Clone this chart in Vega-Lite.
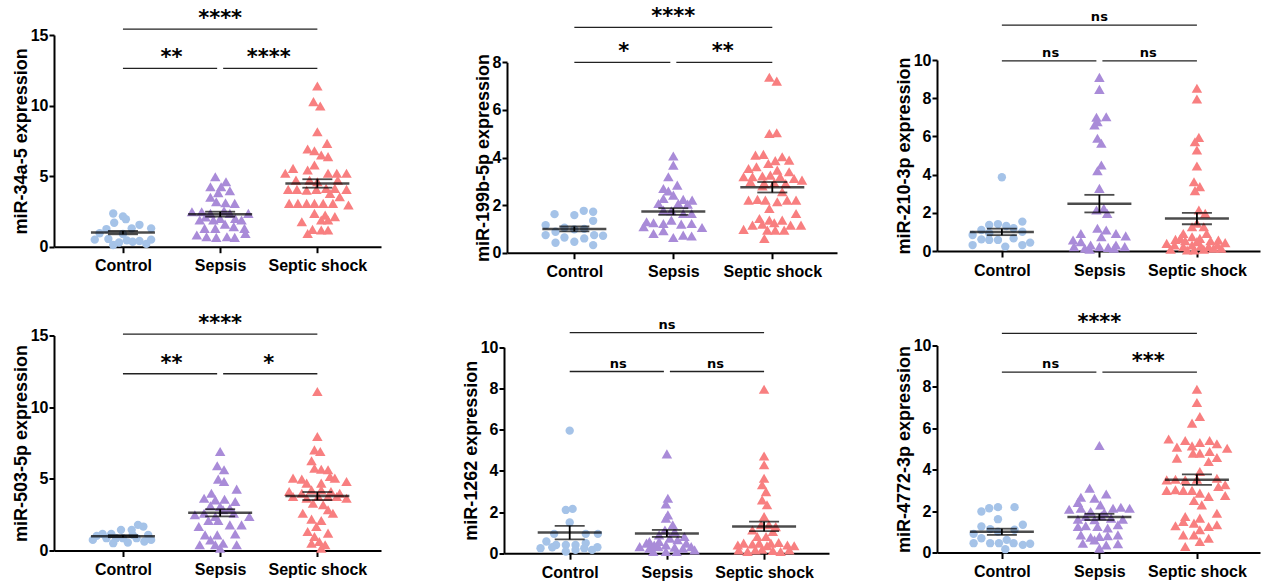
{
 "$schema": "https://vega.github.io/schema/vega-lite/v6.json",
 "padding": {"left": 12, "top": 6, "right": 2, "bottom": 2},
 "background": "white",
 "config": {
  "view": {"stroke": null},
  "axis": {"domainColor": "black", "domainWidth": 2, "tickColor": "black", "tickWidth": 2, "grid": false, "labelOverlap": false,
   "labelFont": "Liberation Sans", "labelFontWeight": "bold", "labelFontSize": 16, "labelColor": "black",
   "titleFont": "Liberation Sans", "titleFontWeight": "bold", "titleFontSize": 18, "titleColor": "black"},
  "axisX": {"tickSize": 6, "labelPadding": 5, "labelAngle": 0},
  "axisY": {"tickSize": 5, "labelPadding": 1, "titlePadding": 0}
 },
 "datasets": {
  "pts": [
   {"p":1,"g":"Control","v":2.35,"j":-0.1},{"p":1,"g":"Control","v":2.15,"j":0.0},{"p":1,"g":"Control","v":1.95,"j":0.03},{"p":1,"g":"Control","v":1.7,"j":-0.09},{"p":1,"g":"Control","v":1.55,"j":0.17},{"p":1,"g":"Control","v":1.3,"j":0.29},{"p":1,"g":"Control","v":1.25,"j":-0.17},{"p":1,"g":"Control","v":1.3,"j":0.09},{"p":1,"g":"Control","v":0.95,"j":-0.24},{"p":1,"g":"Control","v":0.9,"j":0.0},{"p":1,"g":"Control","v":0.5,"j":-0.29},{"p":1,"g":"Control","v":0.55,"j":-0.15},{"p":1,"g":"Control","v":0.3,"j":-0.04},{"p":1,"g":"Control","v":0.45,"j":0.04},{"p":1,"g":"Control","v":0.35,"j":0.1},{"p":1,"g":"Control","v":0.4,"j":0.17},{"p":1,"g":"Control","v":0.2,"j":0.24},{"p":1,"g":"Control","v":0.5,"j":0.29},{"p":1,"g":"Control","v":0.12,"j":-0.1},
   {"p":1,"g":"Sepsis","v":4.96,"j":-0.05},{"p":1,"g":"Sepsis","v":4.6,"j":0.06},{"p":1,"g":"Sepsis","v":4.25,"j":-0.1},{"p":1,"g":"Sepsis","v":4.25,"j":0.01},{"p":1,"g":"Sepsis","v":3.97,"j":0.1},{"p":1,"g":"Sepsis","v":3.83,"j":-0.02},{"p":1,"g":"Sepsis","v":3.5,"j":-0.1},{"p":1,"g":"Sepsis","v":3.19,"j":-0.04},{"p":1,"g":"Sepsis","v":3.12,"j":0.055},{"p":1,"g":"Sepsis","v":3.07,"j":0.15},{"p":1,"g":"Sepsis","v":2.55,"j":0.04},{"p":1,"g":"Sepsis","v":2.48,"j":-0.29},{"p":1,"g":"Sepsis","v":2.48,"j":-0.19},{"p":1,"g":"Sepsis","v":2.36,"j":-0.1},{"p":1,"g":"Sepsis","v":2.36,"j":0.1},{"p":1,"g":"Sepsis","v":2.36,"j":0.29},{"p":1,"g":"Sepsis","v":2.1,"j":-0.15},{"p":1,"g":"Sepsis","v":2.0,"j":0.0},{"p":1,"g":"Sepsis","v":2.0,"j":0.155},{"p":1,"g":"Sepsis","v":1.89,"j":-0.21},{"p":1,"g":"Sepsis","v":1.89,"j":-0.07},{"p":1,"g":"Sepsis","v":1.89,"j":0.22},{"p":1,"g":"Sepsis","v":1.6,"j":0.05},{"p":1,"g":"Sepsis","v":1.42,"j":0.14},{"p":1,"g":"Sepsis","v":1.3,"j":-0.16},{"p":1,"g":"Sepsis","v":1.3,"j":-0.05},{"p":1,"g":"Sepsis","v":1.3,"j":0.25},{"p":1,"g":"Sepsis","v":0.94,"j":0.26},{"p":1,"g":"Sepsis","v":0.83,"j":-0.24},{"p":1,"g":"Sepsis","v":0.71,"j":-0.14},{"p":1,"g":"Sepsis","v":0.66,"j":-0.04},{"p":1,"g":"Sepsis","v":0.71,"j":0.07},{"p":1,"g":"Sepsis","v":0.66,"j":0.15},
   {"p":1,"g":"Septic shock","v":11.39,"j":0.0},{"p":1,"g":"Septic shock","v":10.28,"j":-0.04},{"p":1,"g":"Septic shock","v":9.97,"j":0.03},{"p":1,"g":"Septic shock","v":8.15,"j":0.0},{"p":1,"g":"Septic shock","v":7.32,"j":0.1},{"p":1,"g":"Septic shock","v":6.92,"j":-0.1},{"p":1,"g":"Septic shock","v":6.8,"j":-0.03},{"p":1,"g":"Septic shock","v":6.5,"j":0.04},{"p":1,"g":"Septic shock","v":6.38,"j":0.11},{"p":1,"g":"Septic shock","v":5.79,"j":-0.03},{"p":1,"g":"Septic shock","v":5.55,"j":-0.25},{"p":1,"g":"Septic shock","v":5.2,"j":-0.33},{"p":1,"g":"Septic shock","v":5.43,"j":-0.1},{"p":1,"g":"Septic shock","v":5.2,"j":0.11},{"p":1,"g":"Septic shock","v":5.2,"j":0.2},{"p":1,"g":"Septic shock","v":5.2,"j":0.3},{"p":1,"g":"Septic shock","v":4.72,"j":-0.22},{"p":1,"g":"Septic shock","v":4.72,"j":-0.08},{"p":1,"g":"Septic shock","v":4.6,"j":0.0},{"p":1,"g":"Septic shock","v":4.72,"j":0.21},{"p":1,"g":"Septic shock","v":4.06,"j":-0.3},{"p":1,"g":"Septic shock","v":4.06,"j":-0.21},{"p":1,"g":"Septic shock","v":4.0,"j":-0.11},{"p":1,"g":"Septic shock","v":4.06,"j":-0.01},{"p":1,"g":"Septic shock","v":4.13,"j":0.09},{"p":1,"g":"Septic shock","v":4.13,"j":0.18},{"p":1,"g":"Septic shock","v":4.06,"j":0.3},{"p":1,"g":"Septic shock","v":3.78,"j":0.13},{"p":1,"g":"Septic shock","v":3.54,"j":0.23},{"p":1,"g":"Septic shock","v":3.07,"j":-0.29},{"p":1,"g":"Septic shock","v":3.07,"j":-0.2},{"p":1,"g":"Septic shock","v":3.07,"j":-0.11},{"p":1,"g":"Septic shock","v":3.07,"j":-0.03},{"p":1,"g":"Septic shock","v":3.07,"j":0.06},{"p":1,"g":"Septic shock","v":3.07,"j":0.16},{"p":1,"g":"Septic shock","v":2.95,"j":0.32},{"p":1,"g":"Septic shock","v":2.36,"j":-0.03},{"p":1,"g":"Septic shock","v":2.24,"j":0.08},{"p":1,"g":"Septic shock","v":2.13,"j":0.18},{"p":1,"g":"Septic shock","v":1.77,"j":-0.16},{"p":1,"g":"Septic shock","v":1.89,"j":0.04},{"p":1,"g":"Septic shock","v":1.89,"j":0.11},{"p":1,"g":"Septic shock","v":1.23,"j":-0.05},{"p":1,"g":"Septic shock","v":1.18,"j":0.04},{"p":1,"g":"Septic shock","v":1.18,"j":0.11},{"p":1,"g":"Septic shock","v":0.94,"j":-0.1},

   {"p":2,"g":"Control","v":1.62,"j":-0.2},{"p":2,"g":"Control","v":1.58,"j":0.0},{"p":2,"g":"Control","v":1.76,"j":0.095},{"p":2,"g":"Control","v":1.72,"j":0.19},{"p":2,"g":"Control","v":1.34,"j":0.19},{"p":2,"g":"Control","v":1.16,"j":-0.29},{"p":2,"g":"Control","v":1.05,"j":-0.1},{"p":2,"g":"Control","v":0.98,"j":0.0},{"p":2,"g":"Control","v":1.0,"j":0.1},{"p":2,"g":"Control","v":0.74,"j":-0.29},{"p":2,"g":"Control","v":0.88,"j":-0.19},{"p":2,"g":"Control","v":0.64,"j":-0.1},{"p":2,"g":"Control","v":0.6,"j":0.1},{"p":2,"g":"Control","v":0.74,"j":0.2},{"p":2,"g":"Control","v":0.71,"j":0.29},{"p":2,"g":"Control","v":0.42,"j":-0.19},{"p":2,"g":"Control","v":0.46,"j":0.0},{"p":2,"g":"Control","v":0.32,"j":0.19},
   {"p":2,"g":"Sepsis","v":4.06,"j":0.0},{"p":2,"g":"Sepsis","v":3.68,"j":0.0},{"p":2,"g":"Sepsis","v":3.19,"j":-0.05},{"p":2,"g":"Sepsis","v":2.84,"j":0.04},{"p":2,"g":"Sepsis","v":2.7,"j":-0.1},{"p":2,"g":"Sepsis","v":2.59,"j":-0.05},{"p":2,"g":"Sepsis","v":2.42,"j":0.0},{"p":2,"g":"Sepsis","v":2.28,"j":-0.1},{"p":2,"g":"Sepsis","v":2.24,"j":0.1},{"p":2,"g":"Sepsis","v":2.21,"j":0.19},{"p":2,"g":"Sepsis","v":2.07,"j":-0.15},{"p":2,"g":"Sepsis","v":2.07,"j":0.05},{"p":2,"g":"Sepsis","v":2.04,"j":0.145},{"p":2,"g":"Sepsis","v":1.79,"j":-0.1},{"p":2,"g":"Sepsis","v":1.76,"j":-0.02},{"p":2,"g":"Sepsis","v":1.65,"j":0.1},{"p":2,"g":"Sepsis","v":1.65,"j":0.185},{"p":2,"g":"Sepsis","v":1.3,"j":-0.27},{"p":2,"g":"Sepsis","v":1.26,"j":-0.2},{"p":2,"g":"Sepsis","v":1.23,"j":-0.1},{"p":2,"g":"Sepsis","v":1.37,"j":-0.02},{"p":2,"g":"Sepsis","v":1.2,"j":0.08},{"p":2,"g":"Sepsis","v":1.23,"j":0.185},{"p":2,"g":"Sepsis","v":1.06,"j":0.29},{"p":2,"g":"Sepsis","v":1.09,"j":-0.3},{"p":2,"g":"Sepsis","v":0.81,"j":-0.2},{"p":2,"g":"Sepsis","v":0.92,"j":-0.1},{"p":2,"g":"Sepsis","v":0.64,"j":0.0},{"p":2,"g":"Sepsis","v":0.74,"j":0.1},{"p":2,"g":"Sepsis","v":0.7,"j":0.185},
   {"p":2,"g":"Septic shock","v":7.37,"j":-0.03},{"p":2,"g":"Septic shock","v":7.21,"j":0.045},{"p":2,"g":"Septic shock","v":5.01,"j":-0.03},{"p":2,"g":"Septic shock","v":5.04,"j":0.045},{"p":2,"g":"Septic shock","v":4.1,"j":-0.17},{"p":2,"g":"Septic shock","v":4.13,"j":-0.09},{"p":2,"g":"Septic shock","v":4.03,"j":0.1},{"p":2,"g":"Septic shock","v":3.89,"j":0.17},{"p":2,"g":"Septic shock","v":3.87,"j":0.03},{"p":2,"g":"Septic shock","v":3.75,"j":-0.04},{"p":2,"g":"Septic shock","v":3.61,"j":-0.16},{"p":2,"g":"Septic shock","v":3.54,"j":-0.24},{"p":2,"g":"Septic shock","v":3.47,"j":0.05},{"p":2,"g":"Septic shock","v":3.4,"j":0.17},{"p":2,"g":"Septic shock","v":3.19,"j":-0.29},{"p":2,"g":"Septic shock","v":3.19,"j":-0.2},{"p":2,"g":"Septic shock","v":3.22,"j":-0.1},{"p":2,"g":"Septic shock","v":3.26,"j":-0.02},{"p":2,"g":"Septic shock","v":3.19,"j":0.08},{"p":2,"g":"Septic shock","v":3.12,"j":0.22},{"p":2,"g":"Septic shock","v":3.05,"j":0.3},{"p":2,"g":"Septic shock","v":2.98,"j":-0.22},{"p":2,"g":"Septic shock","v":2.91,"j":-0.08},{"p":2,"g":"Septic shock","v":2.94,"j":0.02},{"p":2,"g":"Septic shock","v":2.91,"j":0.135},{"p":2,"g":"Septic shock","v":2.8,"j":-0.1},{"p":2,"g":"Septic shock","v":2.56,"j":0.1},{"p":2,"g":"Septic shock","v":2.21,"j":-0.24},{"p":2,"g":"Septic shock","v":2.24,"j":-0.15},{"p":2,"g":"Septic shock","v":2.21,"j":-0.07},{"p":2,"g":"Septic shock","v":2.14,"j":0.05},{"p":2,"g":"Septic shock","v":2.21,"j":0.15},{"p":2,"g":"Septic shock","v":2.21,"j":0.24},{"p":2,"g":"Septic shock","v":1.86,"j":-0.03},{"p":2,"g":"Septic shock","v":1.65,"j":0.24},{"p":2,"g":"Septic shock","v":1.44,"j":-0.13},{"p":2,"g":"Septic shock","v":1.37,"j":-0.03},{"p":2,"g":"Septic shock","v":1.37,"j":0.1},{"p":2,"g":"Septic shock","v":1.16,"j":-0.2},{"p":2,"g":"Septic shock","v":1.2,"j":-0.1},{"p":2,"g":"Septic shock","v":1.26,"j":0.02},{"p":2,"g":"Septic shock","v":1.16,"j":0.185},{"p":2,"g":"Septic shock","v":1.16,"j":0.29},{"p":2,"g":"Septic shock","v":0.98,"j":-0.29},{"p":2,"g":"Septic shock","v":0.95,"j":-0.05},{"p":2,"g":"Septic shock","v":0.95,"j":0.03},{"p":2,"g":"Septic shock","v":0.95,"j":0.12},{"p":2,"g":"Septic shock","v":0.6,"j":-0.08},

   {"p":3,"g":"Control","v":3.86,"j":0.0},{"p":3,"g":"Control","v":1.54,"j":0.21},{"p":3,"g":"Control","v":1.36,"j":-0.13},{"p":3,"g":"Control","v":1.41,"j":-0.04},{"p":3,"g":"Control","v":1.31,"j":0.045},{"p":3,"g":"Control","v":1.19,"j":0.12},{"p":3,"g":"Control","v":1.1,"j":-0.21},{"p":3,"g":"Control","v":0.84,"j":-0.3},{"p":3,"g":"Control","v":1.01,"j":0.21},{"p":3,"g":"Control","v":0.93,"j":-0.13},{"p":3,"g":"Control","v":0.61,"j":-0.21},{"p":3,"g":"Control","v":0.58,"j":-0.13},{"p":3,"g":"Control","v":0.58,"j":-0.04},{"p":3,"g":"Control","v":0.66,"j":0.12},{"p":3,"g":"Control","v":0.31,"j":-0.3},{"p":3,"g":"Control","v":0.23,"j":0.035},{"p":3,"g":"Control","v":0.31,"j":0.21},{"p":3,"g":"Control","v":0.44,"j":0.29},
   {"p":3,"g":"Sepsis","v":9.09,"j":0.0},{"p":3,"g":"Sepsis","v":8.46,"j":0.0},{"p":3,"g":"Sepsis","v":7.0,"j":-0.03},{"p":3,"g":"Sepsis","v":7.03,"j":0.07},{"p":3,"g":"Sepsis","v":6.77,"j":-0.02},{"p":3,"g":"Sepsis","v":6.6,"j":-0.05},{"p":3,"g":"Sepsis","v":5.9,"j":-0.02},{"p":3,"g":"Sepsis","v":5.64,"j":0.02},{"p":3,"g":"Sepsis","v":4.5,"j":0.02},{"p":3,"g":"Sepsis","v":4.2,"j":-0.02},{"p":3,"g":"Sepsis","v":3.28,"j":0.0},{"p":3,"g":"Sepsis","v":2.15,"j":-0.03},{"p":3,"g":"Sepsis","v":2.23,"j":0.045},{"p":3,"g":"Sepsis","v":1.97,"j":0.08},{"p":3,"g":"Sepsis","v":1.19,"j":-0.02},{"p":3,"g":"Sepsis","v":1.1,"j":0.07},{"p":3,"g":"Sepsis","v":0.92,"j":-0.19},{"p":3,"g":"Sepsis","v":0.92,"j":0.17},{"p":3,"g":"Sepsis","v":0.58,"j":-0.27},{"p":3,"g":"Sepsis","v":0.49,"j":-0.19},{"p":3,"g":"Sepsis","v":0.75,"j":0.02},{"p":3,"g":"Sepsis","v":0.79,"j":0.27},{"p":3,"g":"Sepsis","v":0.23,"j":-0.26},{"p":3,"g":"Sepsis","v":0.14,"j":-0.15},{"p":3,"g":"Sepsis","v":0.31,"j":-0.09},{"p":3,"g":"Sepsis","v":0.23,"j":0.0},{"p":3,"g":"Sepsis","v":0.19,"j":0.09},{"p":3,"g":"Sepsis","v":0.31,"j":0.17},{"p":3,"g":"Sepsis","v":0.23,"j":0.26},{"p":3,"g":"Sepsis","v":0.09,"j":-0.1},{"p":3,"g":"Sepsis","v":0.14,"j":0.15},
   {"p":3,"g":"Septic shock","v":8.52,"j":0.0},{"p":3,"g":"Septic shock","v":7.96,"j":0.0},{"p":3,"g":"Septic shock","v":5.95,"j":0.02},{"p":3,"g":"Septic shock","v":5.72,"j":-0.02},{"p":3,"g":"Septic shock","v":5.29,"j":0.0},{"p":3,"g":"Septic shock","v":4.45,"j":0.0},{"p":3,"g":"Septic shock","v":3.63,"j":-0.03},{"p":3,"g":"Septic shock","v":3.37,"j":0.03},{"p":3,"g":"Septic shock","v":3.16,"j":-0.02},{"p":3,"g":"Septic shock","v":2.15,"j":0.02},{"p":3,"g":"Septic shock","v":1.97,"j":0.085},{"p":3,"g":"Septic shock","v":1.45,"j":0.0},{"p":3,"g":"Septic shock","v":1.27,"j":-0.05},{"p":3,"g":"Septic shock","v":1.27,"j":0.07},{"p":3,"g":"Septic shock","v":0.92,"j":-0.14},{"p":3,"g":"Septic shock","v":0.92,"j":0.1},{"p":3,"g":"Septic shock","v":0.66,"j":-0.17},{"p":3,"g":"Septic shock","v":0.61,"j":-0.22},{"p":3,"g":"Septic shock","v":0.54,"j":-0.12},{"p":3,"g":"Septic shock","v":0.75,"j":-0.05},{"p":3,"g":"Septic shock","v":0.66,"j":0.03},{"p":3,"g":"Septic shock","v":0.54,"j":0.14},{"p":3,"g":"Septic shock","v":0.58,"j":0.22},{"p":3,"g":"Septic shock","v":0.4,"j":-0.31},{"p":3,"g":"Septic shock","v":0.31,"j":-0.23},{"p":3,"g":"Septic shock","v":0.23,"j":-0.14},{"p":3,"g":"Septic shock","v":0.31,"j":-0.05},{"p":3,"g":"Septic shock","v":0.49,"j":0.0},{"p":3,"g":"Septic shock","v":0.26,"j":0.04},{"p":3,"g":"Septic shock","v":0.23,"j":0.12},{"p":3,"g":"Septic shock","v":0.31,"j":0.21},{"p":3,"g":"Septic shock","v":0.44,"j":0.29},{"p":3,"g":"Septic shock","v":0.09,"j":-0.27},{"p":3,"g":"Septic shock","v":0.05,"j":-0.03},{"p":3,"g":"Septic shock","v":0.09,"j":0.07},{"p":3,"g":"Septic shock","v":0.14,"j":0.17},{"p":3,"g":"Septic shock","v":0.14,"j":0.25},{"p":3,"g":"Septic shock","v":0.05,"j":-0.1},

   {"p":4,"g":"Control","v":1.02,"j":-0.27},{"p":4,"g":"Control","v":1.16,"j":-0.21},{"p":4,"g":"Control","v":1.16,"j":-0.12},{"p":4,"g":"Control","v":1.44,"j":-0.02},{"p":4,"g":"Control","v":1.44,"j":0.09},{"p":4,"g":"Control","v":1.79,"j":0.155},{"p":4,"g":"Control","v":1.67,"j":0.21},{"p":4,"g":"Control","v":0.74,"j":0.29},{"p":4,"g":"Control","v":0.51,"j":-0.1},{"p":4,"g":"Control","v":0.86,"j":0.0},{"p":4,"g":"Control","v":0.56,"j":0.05},{"p":4,"g":"Control","v":0.86,"j":0.14},{"p":4,"g":"Control","v":0.63,"j":0.22},{"p":4,"g":"Control","v":0.74,"j":-0.31},{"p":4,"g":"Control","v":0.86,"j":-0.17},{"p":4,"g":"Control","v":0.86,"j":-0.07},{"p":4,"g":"Control","v":1.09,"j":0.1},{"p":4,"g":"Control","v":1.09,"j":0.26},
   {"p":4,"g":"Sepsis","v":6.91,"j":0.0},{"p":4,"g":"Sepsis","v":5.91,"j":-0.03},{"p":4,"g":"Sepsis","v":5.63,"j":0.04},{"p":4,"g":"Sepsis","v":4.98,"j":-0.02},{"p":4,"g":"Sepsis","v":4.81,"j":0.04},{"p":4,"g":"Sepsis","v":4.28,"j":0.17},{"p":4,"g":"Sepsis","v":4.0,"j":-0.09},{"p":4,"g":"Sepsis","v":3.65,"j":-0.165},{"p":4,"g":"Sepsis","v":3.53,"j":-0.05},{"p":4,"g":"Sepsis","v":3.58,"j":0.045},{"p":4,"g":"Sepsis","v":3.42,"j":0.155},{"p":4,"g":"Sepsis","v":3.12,"j":-0.1},{"p":4,"g":"Sepsis","v":3.07,"j":0.0},{"p":4,"g":"Sepsis","v":2.95,"j":0.1},{"p":4,"g":"Sepsis","v":2.49,"j":-0.26},{"p":4,"g":"Sepsis","v":2.6,"j":-0.165},{"p":4,"g":"Sepsis","v":2.37,"j":-0.05},{"p":4,"g":"Sepsis","v":2.84,"j":0.03},{"p":4,"g":"Sepsis","v":2.6,"j":0.14},{"p":4,"g":"Sepsis","v":2.37,"j":0.3},{"p":4,"g":"Sepsis","v":1.79,"j":0.22},{"p":4,"g":"Sepsis","v":1.67,"j":-0.22},{"p":4,"g":"Sepsis","v":2.09,"j":-0.12},{"p":4,"g":"Sepsis","v":2.09,"j":-0.02},{"p":4,"g":"Sepsis","v":1.79,"j":0.1},{"p":4,"g":"Sepsis","v":1.09,"j":-0.155},{"p":4,"g":"Sepsis","v":1.09,"j":-0.03},{"p":4,"g":"Sepsis","v":1.16,"j":0.155},{"p":4,"g":"Sepsis","v":0.4,"j":-0.21},{"p":4,"g":"Sepsis","v":0.4,"j":-0.05},{"p":4,"g":"Sepsis","v":0.51,"j":0.03},{"p":4,"g":"Sepsis","v":0.4,"j":0.17},{"p":4,"g":"Sepsis","v":0.16,"j":0.0},{"p":4,"g":"Sepsis","v":0.74,"j":-0.1},
   {"p":4,"g":"Septic shock","v":11.09,"j":0.0},{"p":4,"g":"Septic shock","v":7.95,"j":0.0},{"p":4,"g":"Septic shock","v":7.02,"j":-0.03},{"p":4,"g":"Septic shock","v":6.91,"j":0.03},{"p":4,"g":"Septic shock","v":6.26,"j":-0.06},{"p":4,"g":"Septic shock","v":5.74,"j":-0.03},{"p":4,"g":"Septic shock","v":5.67,"j":0.04},{"p":4,"g":"Septic shock","v":5.63,"j":0.11},{"p":4,"g":"Septic shock","v":5.05,"j":-0.25},{"p":4,"g":"Septic shock","v":4.98,"j":-0.16},{"p":4,"g":"Septic shock","v":5.16,"j":0.13},{"p":4,"g":"Septic shock","v":5.05,"j":0.18},{"p":4,"g":"Septic shock","v":4.7,"j":-0.11},{"p":4,"g":"Septic shock","v":4.81,"j":0.3},{"p":4,"g":"Septic shock","v":4.7,"j":0.04},{"p":4,"g":"Septic shock","v":4.12,"j":-0.29},{"p":4,"g":"Septic shock","v":4.0,"j":-0.16},{"p":4,"g":"Septic shock","v":4.23,"j":-0.06},{"p":4,"g":"Septic shock","v":4.23,"j":0.04},{"p":4,"g":"Septic shock","v":4.12,"j":0.14},{"p":4,"g":"Septic shock","v":4.0,"j":0.23},{"p":4,"g":"Septic shock","v":3.77,"j":-0.25},{"p":4,"g":"Septic shock","v":3.65,"j":-0.11},{"p":4,"g":"Septic shock","v":3.77,"j":0.01},{"p":4,"g":"Septic shock","v":3.77,"j":0.11},{"p":4,"g":"Septic shock","v":3.77,"j":0.2},{"p":4,"g":"Septic shock","v":3.65,"j":0.3},{"p":4,"g":"Septic shock","v":3.3,"j":-0.045},{"p":4,"g":"Septic shock","v":3.19,"j":0.06},{"p":4,"g":"Septic shock","v":2.6,"j":-0.15},{"p":4,"g":"Septic shock","v":2.84,"j":0.11},{"p":4,"g":"Septic shock","v":2.6,"j":0.16},{"p":4,"g":"Septic shock","v":2.19,"j":-0.06},{"p":4,"g":"Septic shock","v":2.09,"j":0.04},{"p":4,"g":"Septic shock","v":1.67,"j":-0.01},{"p":4,"g":"Septic shock","v":1.21,"j":0.11},{"p":4,"g":"Septic shock","v":1.33,"j":-0.1},{"p":4,"g":"Septic shock","v":0.98,"j":-0.03},{"p":4,"g":"Septic shock","v":0.63,"j":0.02},{"p":4,"g":"Septic shock","v":0.51,"j":-0.06},{"p":4,"g":"Septic shock","v":0.4,"j":0.08},{"p":4,"g":"Septic shock","v":0.16,"j":0.04},

   {"p":5,"g":"Control","v":5.95,"j":0.0},{"p":5,"g":"Control","v":2.1,"j":-0.04},{"p":5,"g":"Control","v":2.15,"j":0.03},{"p":5,"g":"Control","v":1.49,"j":0.0},{"p":5,"g":"Control","v":0.94,"j":-0.16},{"p":5,"g":"Control","v":0.94,"j":0.165},{"p":5,"g":"Control","v":0.94,"j":0.29},{"p":5,"g":"Control","v":0.57,"j":-0.24},{"p":5,"g":"Control","v":0.4,"j":-0.14},{"p":5,"g":"Control","v":0.4,"j":-0.04},{"p":5,"g":"Control","v":0.4,"j":0.06},{"p":5,"g":"Control","v":0.49,"j":0.165},{"p":5,"g":"Control","v":0.24,"j":-0.3},{"p":5,"g":"Control","v":0.29,"j":-0.18},{"p":5,"g":"Control","v":0.08,"j":-0.04},{"p":5,"g":"Control","v":0.16,"j":0.06},{"p":5,"g":"Control","v":0.24,"j":0.15},{"p":5,"g":"Control","v":0.16,"j":0.23},{"p":5,"g":"Control","v":0.29,"j":0.285},
   {"p":5,"g":"Sepsis","v":4.82,"j":0.0},{"p":5,"g":"Sepsis","v":2.67,"j":0.01},{"p":5,"g":"Sepsis","v":2.39,"j":-0.01},{"p":5,"g":"Sepsis","v":1.86,"j":0.01},{"p":5,"g":"Sepsis","v":1.7,"j":-0.01},{"p":5,"g":"Sepsis","v":1.38,"j":0.06},{"p":5,"g":"Sepsis","v":1.13,"j":-0.02},{"p":5,"g":"Sepsis","v":1.05,"j":0.08},{"p":5,"g":"Sepsis","v":0.57,"j":-0.18},{"p":5,"g":"Sepsis","v":0.57,"j":-0.08},{"p":5,"g":"Sepsis","v":0.73,"j":0.03},{"p":5,"g":"Sepsis","v":0.65,"j":0.11},{"p":5,"g":"Sepsis","v":0.49,"j":0.2},{"p":5,"g":"Sepsis","v":0.32,"j":-0.28},{"p":5,"g":"Sepsis","v":0.24,"j":-0.18},{"p":5,"g":"Sepsis","v":0.32,"j":-0.09},{"p":5,"g":"Sepsis","v":0.4,"j":-0.01},{"p":5,"g":"Sepsis","v":0.29,"j":0.08},{"p":5,"g":"Sepsis","v":0.24,"j":0.165},{"p":5,"g":"Sepsis","v":0.32,"j":0.25},{"p":5,"g":"Sepsis","v":0.16,"j":0.285},{"p":5,"g":"Sepsis","v":0.08,"j":-0.14},{"p":5,"g":"Sepsis","v":0.08,"j":-0.01},{"p":5,"g":"Sepsis","v":0.08,"j":0.1},{"p":5,"g":"Sepsis","v":0.49,"j":-0.21},{"p":5,"g":"Sepsis","v":0.4,"j":-0.13},{"p":5,"g":"Sepsis","v":0.89,"j":-0.08},{"p":5,"g":"Sepsis","v":0.81,"j":0.18},
   {"p":5,"g":"Septic shock","v":7.96,"j":0.0},{"p":5,"g":"Septic shock","v":4.72,"j":0.0},{"p":5,"g":"Septic shock","v":4.29,"j":0.0},{"p":5,"g":"Septic shock","v":3.64,"j":0.0},{"p":5,"g":"Septic shock","v":3.32,"j":-0.02},{"p":5,"g":"Septic shock","v":2.99,"j":0.02},{"p":5,"g":"Septic shock","v":2.59,"j":-0.02},{"p":5,"g":"Septic shock","v":2.35,"j":0.03},{"p":5,"g":"Septic shock","v":1.78,"j":0.0},{"p":5,"g":"Septic shock","v":1.38,"j":-0.03},{"p":5,"g":"Septic shock","v":1.38,"j":0.05},{"p":5,"g":"Septic shock","v":1.29,"j":0.12},{"p":5,"g":"Septic shock","v":1.13,"j":-0.12},{"p":5,"g":"Septic shock","v":1.05,"j":0.09},{"p":5,"g":"Septic shock","v":0.81,"j":-0.07},{"p":5,"g":"Septic shock","v":0.81,"j":0.02},{"p":5,"g":"Septic shock","v":0.49,"j":-0.21},{"p":5,"g":"Septic shock","v":0.45,"j":-0.12},{"p":5,"g":"Septic shock","v":0.49,"j":0.07},{"p":5,"g":"Septic shock","v":0.52,"j":0.15},{"p":5,"g":"Septic shock","v":0.4,"j":0.24},{"p":5,"g":"Septic shock","v":0.4,"j":-0.27},{"p":5,"g":"Septic shock","v":0.36,"j":0.31},{"p":5,"g":"Septic shock","v":0.16,"j":-0.26},{"p":5,"g":"Septic shock","v":0.08,"j":-0.17},{"p":5,"g":"Septic shock","v":0.16,"j":-0.09},{"p":5,"g":"Septic shock","v":0.19,"j":-0.02},{"p":5,"g":"Septic shock","v":0.13,"j":0.09},{"p":5,"g":"Septic shock","v":0.08,"j":0.17},{"p":5,"g":"Septic shock","v":0.16,"j":0.26},{"p":5,"g":"Septic shock","v":0.49,"j":-0.05},{"p":5,"g":"Septic shock","v":0.36,"j":0.03},

   {"p":6,"g":"Control","v":2.14,"j":-0.13},{"p":6,"g":"Control","v":2.19,"j":-0.04},{"p":6,"g":"Control","v":2.19,"j":0.13},{"p":6,"g":"Control","v":1.98,"j":-0.21},{"p":6,"g":"Control","v":1.61,"j":-0.04},{"p":6,"g":"Control","v":1.26,"j":-0.21},{"p":6,"g":"Control","v":1.13,"j":-0.12},{"p":6,"g":"Control","v":1.34,"j":0.215},{"p":6,"g":"Control","v":0.9,"j":-0.29},{"p":6,"g":"Control","v":1.01,"j":-0.04},{"p":6,"g":"Control","v":1.1,"j":0.13},{"p":6,"g":"Control","v":0.69,"j":-0.21},{"p":6,"g":"Control","v":0.45,"j":-0.12},{"p":6,"g":"Control","v":0.45,"j":-0.03},{"p":6,"g":"Control","v":0.61,"j":0.05},{"p":6,"g":"Control","v":0.45,"j":0.12},{"p":6,"g":"Control","v":0.45,"j":-0.29},{"p":6,"g":"Control","v":0.16,"j":0.035},{"p":6,"g":"Control","v":0.37,"j":0.215},{"p":6,"g":"Control","v":0.42,"j":0.29},
   {"p":6,"g":"Sepsis","v":5.17,"j":0.0},{"p":6,"g":"Sepsis","v":3.11,"j":-0.1},{"p":6,"g":"Sepsis","v":2.83,"j":0.07},{"p":6,"g":"Sepsis","v":2.67,"j":-0.19},{"p":6,"g":"Sepsis","v":2.62,"j":-0.05},{"p":6,"g":"Sepsis","v":2.42,"j":-0.22},{"p":6,"g":"Sepsis","v":2.3,"j":0.01},{"p":6,"g":"Sepsis","v":2.09,"j":-0.31},{"p":6,"g":"Sepsis","v":2.14,"j":-0.19},{"p":6,"g":"Sepsis","v":2.14,"j":0.14},{"p":6,"g":"Sepsis","v":2.19,"j":0.22},{"p":6,"g":"Sepsis","v":2.14,"j":0.31},{"p":6,"g":"Sepsis","v":1.98,"j":-0.09},{"p":6,"g":"Sepsis","v":1.93,"j":0.05},{"p":6,"g":"Sepsis","v":1.61,"j":-0.22},{"p":6,"g":"Sepsis","v":1.74,"j":-0.14},{"p":6,"g":"Sepsis","v":1.77,"j":0.02},{"p":6,"g":"Sepsis","v":1.66,"j":0.12},{"p":6,"g":"Sepsis","v":1.61,"j":0.24},{"p":6,"g":"Sepsis","v":1.58,"j":-0.05},{"p":6,"g":"Sepsis","v":1.26,"j":-0.22},{"p":6,"g":"Sepsis","v":1.29,"j":-0.14},{"p":6,"g":"Sepsis","v":1.26,"j":-0.02},{"p":6,"g":"Sepsis","v":1.34,"j":0.19},{"p":6,"g":"Sepsis","v":1.18,"j":0.085},{"p":6,"g":"Sepsis","v":0.85,"j":-0.19},{"p":6,"g":"Sepsis","v":0.74,"j":-0.09},{"p":6,"g":"Sepsis","v":0.77,"j":0.0},{"p":6,"g":"Sepsis","v":0.81,"j":0.085},{"p":6,"g":"Sepsis","v":0.85,"j":0.19},{"p":6,"g":"Sepsis","v":0.45,"j":-0.17},{"p":6,"g":"Sepsis","v":0.37,"j":0.07},{"p":6,"g":"Sepsis","v":0.42,"j":0.19},{"p":6,"g":"Sepsis","v":0.61,"j":-0.05},{"p":6,"g":"Sepsis","v":0.21,"j":0.0},
   {"p":6,"g":"Septic shock","v":7.89,"j":0.0},{"p":6,"g":"Septic shock","v":7.25,"j":0.0},{"p":6,"g":"Septic shock","v":6.57,"j":0.03},{"p":6,"g":"Septic shock","v":6.25,"j":-0.05},{"p":6,"g":"Septic shock","v":5.48,"j":-0.29},{"p":6,"g":"Septic shock","v":5.41,"j":-0.12},{"p":6,"g":"Septic shock","v":5.31,"j":0.03},{"p":6,"g":"Septic shock","v":5.41,"j":0.13},{"p":6,"g":"Septic shock","v":5.25,"j":0.205},{"p":6,"g":"Septic shock","v":5.09,"j":-0.205},{"p":6,"g":"Septic shock","v":5.04,"j":0.31},{"p":6,"g":"Septic shock","v":5.15,"j":-0.05},{"p":6,"g":"Septic shock","v":4.8,"j":0.03},{"p":6,"g":"Septic shock","v":4.8,"j":-0.04},{"p":6,"g":"Septic shock","v":4.88,"j":0.13},{"p":6,"g":"Septic shock","v":4.59,"j":0.205},{"p":6,"g":"Septic shock","v":4.56,"j":-0.205},{"p":6,"g":"Septic shock","v":4.4,"j":0.12},{"p":6,"g":"Septic shock","v":3.91,"j":0.03},{"p":6,"g":"Septic shock","v":3.51,"j":-0.31},{"p":6,"g":"Septic shock","v":3.54,"j":-0.22},{"p":6,"g":"Septic shock","v":3.51,"j":-0.12},{"p":6,"g":"Septic shock","v":3.54,"j":0.0},{"p":6,"g":"Septic shock","v":3.59,"j":0.205},{"p":6,"g":"Septic shock","v":3.0,"j":-0.31},{"p":6,"g":"Septic shock","v":3.03,"j":-0.22},{"p":6,"g":"Septic shock","v":3.0,"j":-0.14},{"p":6,"g":"Septic shock","v":3.0,"j":-0.05},{"p":6,"g":"Septic shock","v":2.87,"j":0.03},{"p":6,"g":"Septic shock","v":2.71,"j":0.12},{"p":6,"g":"Septic shock","v":3.27,"j":0.29},{"p":6,"g":"Septic shock","v":3.19,"j":0.22},{"p":6,"g":"Septic shock","v":2.75,"j":0.29},{"p":6,"g":"Septic shock","v":2.51,"j":-0.03},{"p":6,"g":"Septic shock","v":2.3,"j":0.05},{"p":6,"g":"Septic shock","v":1.9,"j":0.205},{"p":6,"g":"Septic shock","v":1.74,"j":-0.12},{"p":6,"g":"Septic shock","v":1.66,"j":0.03},{"p":6,"g":"Septic shock","v":1.29,"j":-0.22},{"p":6,"g":"Septic shock","v":1.5,"j":-0.14},{"p":6,"g":"Septic shock","v":1.42,"j":-0.03},{"p":6,"g":"Septic shock","v":1.26,"j":0.12},{"p":6,"g":"Septic shock","v":1.34,"j":0.205},{"p":6,"g":"Septic shock","v":0.85,"j":-0.14},{"p":6,"g":"Septic shock","v":0.85,"j":-0.03},{"p":6,"g":"Septic shock","v":1.1,"j":0.03},{"p":6,"g":"Septic shock","v":0.69,"j":0.12},{"p":6,"g":"Septic shock","v":0.53,"j":0.03},{"p":6,"g":"Septic shock","v":0.29,"j":-0.12}
  ],
  "stats": [
   {"p":1,"g":"Control","m":1.0,"lo":0.88,"hi":1.12},{"p":1,"g":"Sepsis","m":2.3,"lo":2.13,"hi":2.48},{"p":1,"g":"Septic shock","m":4.48,"lo":4.18,"hi":4.78},
   {"p":2,"g":"Control","m":1.0,"lo":0.9,"hi":1.1},{"p":2,"g":"Sepsis","m":1.73,"lo":1.59,"hi":1.87},{"p":2,"g":"Septic shock","m":2.75,"lo":2.53,"hi":2.97},
   {"p":3,"g":"Control","m":1.0,"lo":0.83,"hi":1.17},{"p":3,"g":"Sepsis","m":2.48,"lo":2.02,"hi":2.94},{"p":3,"g":"Septic shock","m":1.7,"lo":1.4,"hi":2.0},
   {"p":4,"g":"Control","m":1.0,"lo":0.93,"hi":1.07},{"p":4,"g":"Sepsis","m":2.63,"lo":2.38,"hi":2.88},{"p":4,"g":"Septic shock","m":3.8,"lo":3.52,"hi":4.08},
   {"p":5,"g":"Control","m":1.0,"lo":0.67,"hi":1.33},{"p":5,"g":"Sepsis","m":0.96,"lo":0.79,"hi":1.13},{"p":5,"g":"Septic shock","m":1.3,"lo":1.07,"hi":1.53},
   {"p":6,"g":"Control","m":1.0,"lo":0.85,"hi":1.15},{"p":6,"g":"Sepsis","m":1.72,"lo":1.57,"hi":1.87},{"p":6,"g":"Septic shock","m":3.52,"lo":3.27,"hi":3.77}
  ],
  "br": [
   {"p":1,"k":"top","a":"Control","b":"Septic shock","v":15.41,"t":"****"},{"p":1,"k":"left","a":"Control","b":"Sepsis","v":12.64,"t":"**"},{"p":1,"k":"right","a":"Sepsis","b":"Septic shock","v":12.64,"t":"****"},
   {"p":2,"k":"top","a":"Control","b":"Septic shock","v":9.47,"t":"****"},{"p":2,"k":"left","a":"Control","b":"Sepsis","v":8.0,"t":"*"},{"p":2,"k":"right","a":"Sepsis","b":"Septic shock","v":8.0,"t":"**"},
   {"p":3,"k":"top","a":"Control","b":"Septic shock","v":11.83,"t":"ns"},{"p":3,"k":"left","a":"Control","b":"Sepsis","v":9.95,"t":"ns"},{"p":3,"k":"right","a":"Sepsis","b":"Septic shock","v":9.95,"t":"ns"},
   {"p":4,"k":"top","a":"Control","b":"Septic shock","v":15.1,"t":"****"},{"p":4,"k":"left","a":"Control","b":"Sepsis","v":12.33,"t":"**"},{"p":4,"k":"right","a":"Sepsis","b":"Septic shock","v":12.33,"t":"*"},
   {"p":5,"k":"top","a":"Control","b":"Septic shock","v":10.71,"t":"ns"},{"p":5,"k":"left","a":"Control","b":"Sepsis","v":8.82,"t":"ns"},{"p":5,"k":"right","a":"Sepsis","b":"Septic shock","v":8.82,"t":"ns"},
   {"p":6,"k":"top","a":"Control","b":"Septic shock","v":10.59,"t":"****"},{"p":6,"k":"left","a":"Control","b":"Sepsis","v":8.71,"t":"ns"},{"p":6,"k":"right","a":"Sepsis","b":"Septic shock","v":8.71,"t":"***"}
  ]
 },
 "resolve": {"scale": {"xOffset": "independent"}},
 "spacing": 31.5,
 "vconcat": [
  {"spacing": 58, "resolve": {"scale": {"xOffset": "independent"}}, "hconcat": [
   {"spacing": 93, "resolve": {"scale": {"xOffset": "independent"}}, "hconcat": [
    {"width": 327, "height": 211.7, "layer": [
     {"data": {"name": "pts"}, "transform": [{"filter": "datum.p == 1"}], "mark": {"type": "point", "filled": true, "opacity": 1},
      "encoding": {
       "x": {"field": "g", "type": "nominal", "scale": {"type": "point", "domain": ["Control","Sepsis","Septic shock"], "padding": 0.682, "align": 0.52}, "axis": {"title": null}},
       "xOffset": {"field": "j", "type": "quantitative", "scale": {"domain": [-1,1], "range": [-97.2,97.2]}},
       "y": {"field": "v", "type": "quantitative", "scale": {"domain": [0,15], "nice": false}, "axis": {"title": "miR-34a-5 expression", "values": [0,5,10,15]}},
       "color": {"field": "g", "type": "nominal", "scale": {"domain": ["Control","Sepsis","Septic shock"], "range": ["#a5c3e8","#a98bd8","#f87f80"]}, "legend": null},
       "shape": {"field": "g", "type": "nominal", "scale": {"domain": ["Control","Sepsis","Septic shock"], "range": ["circle","triangle-up","triangle-up"]}, "legend": null},
       "size": {"condition": {"test": "datum.g == 'Control'", "value": 70}, "value": 110}}},
     {"data": {"name": "stats"}, "transform": [{"filter": "datum.p == 1"}], "mark": {"type": "rule", "color": "black", "strokeWidth": 1.8},
      "encoding": {"x": {"field": "g", "type": "nominal"}, "y": {"field": "lo", "type": "quantitative"}, "y2": {"field": "hi"}}},
     {"data": {"name": "stats"}, "transform": [{"filter": "datum.p == 1"}], "mark": {"type": "tick", "orient": "horizontal", "color": "black", "size": 64, "thickness": 2.5},
      "encoding": {"x": {"field": "g", "type": "nominal"}, "y": {"field": "m", "type": "quantitative"}}},
     {"data": {"name": "stats"}, "transform": [{"filter": "datum.p == 1"}], "mark": {"type": "tick", "orient": "horizontal", "color": "black", "size": 30, "thickness": 1.8},
      "encoding": {"x": {"field": "g", "type": "nominal"}, "y": {"field": "lo", "type": "quantitative"}}},
     {"data": {"name": "stats"}, "transform": [{"filter": "datum.p == 1"}], "mark": {"type": "tick", "orient": "horizontal", "color": "black", "size": 30, "thickness": 1.8},
      "encoding": {"x": {"field": "g", "type": "nominal"}, "y": {"field": "hi", "type": "quantitative"}}},
     {"data": {"name": "br"}, "transform": [{"filter": "datum.p == 1 && datum.k == 'top'"}], "mark": {"type": "rule", "color": "#222222", "strokeWidth": 1.3},
      "encoding": {"x": {"field": "a", "type": "nominal"}, "x2": {"field": "b"}, "y": {"field": "v", "type": "quantitative"}}},
     {"data": {"name": "br"}, "transform": [{"filter": "datum.p == 1 && datum.k == 'left'"}], "mark": {"type": "rule", "color": "#222222", "strokeWidth": 1.3, "x2Offset": -3},
      "encoding": {"x": {"field": "a", "type": "nominal"}, "x2": {"field": "b"}, "y": {"field": "v", "type": "quantitative"}}},
     {"data": {"name": "br"}, "transform": [{"filter": "datum.p == 1 && datum.k == 'right'"}], "mark": {"type": "rule", "color": "#222222", "strokeWidth": 1.3, "xOffset": 3},
      "encoding": {"x": {"field": "a", "type": "nominal"}, "x2": {"field": "b"}, "y": {"field": "v", "type": "quantitative"}}},
     {"data": {"name": "br"}, "transform": [{"filter": "datum.p == 1 && datum.k != 'top'"}], "mark": {"type": "text", "font": "DejaVu Sans", "fontWeight": "bold", "color": "black", "baseline": "alphabetic", "dx": 48.6, "dy": -4},
      "encoding": {"x": {"field": "a", "type": "nominal"}, "y": {"field": "v", "type": "quantitative"}, "text": {"field": "t"}, "size": {"condition": {"test": "datum.t == 'ns'", "value": 13}, "value": 21}}},
     {"data": {"name": "br"}, "transform": [{"filter": "datum.p == 1 && datum.k == 'top'"}], "mark": {"type": "text", "font": "DejaVu Sans", "fontWeight": "bold", "color": "black", "baseline": "alphabetic", "dx": 97.2, "dy": -4},
      "encoding": {"x": {"field": "a", "type": "nominal"}, "y": {"field": "v", "type": "quantitative"}, "text": {"field": "t"}, "size": {"condition": {"test": "datum.t == 'ns'", "value": 13}, "value": 21}}}
    ]},
    {"width": 330, "height": 217.7, "layer": [
     {"data": {"name": "pts"}, "transform": [{"filter": "datum.p == 2"}], "mark": {"type": "point", "filled": true, "opacity": 1},
      "encoding": {
       "x": {"field": "g", "type": "nominal", "scale": {"type": "point", "domain": ["Control","Sepsis","Septic shock"], "padding": 0.667, "align": 0.51}, "axis": {"title": null}},
       "xOffset": {"field": "j", "type": "quantitative", "scale": {"domain": [-1,1], "range": [-99,99]}},
       "y": {"field": "v", "type": "quantitative", "scale": {"domain": [0,8], "nice": false, "range": [217.7, 27.3]}, "axis": {"title": "miR-199b-5p expression", "values": [0,2,4,6,8]}},
       "color": {"field": "g", "type": "nominal", "scale": {"domain": ["Control","Sepsis","Septic shock"], "range": ["#a5c3e8","#a98bd8","#f87f80"]}, "legend": null},
       "shape": {"field": "g", "type": "nominal", "scale": {"domain": ["Control","Sepsis","Septic shock"], "range": ["circle","triangle-up","triangle-up"]}, "legend": null},
       "size": {"condition": {"test": "datum.g == 'Control'", "value": 70}, "value": 110}}},
     {"data": {"name": "stats"}, "transform": [{"filter": "datum.p == 2"}], "mark": {"type": "rule", "color": "black", "strokeWidth": 1.8},
      "encoding": {"x": {"field": "g", "type": "nominal"}, "y": {"field": "lo", "type": "quantitative"}, "y2": {"field": "hi"}}},
     {"data": {"name": "stats"}, "transform": [{"filter": "datum.p == 2"}], "mark": {"type": "tick", "orient": "horizontal", "color": "black", "size": 64, "thickness": 2.5},
      "encoding": {"x": {"field": "g", "type": "nominal"}, "y": {"field": "m", "type": "quantitative"}}},
     {"data": {"name": "stats"}, "transform": [{"filter": "datum.p == 2"}], "mark": {"type": "tick", "orient": "horizontal", "color": "black", "size": 30, "thickness": 1.8},
      "encoding": {"x": {"field": "g", "type": "nominal"}, "y": {"field": "lo", "type": "quantitative"}}},
     {"data": {"name": "stats"}, "transform": [{"filter": "datum.p == 2"}], "mark": {"type": "tick", "orient": "horizontal", "color": "black", "size": 30, "thickness": 1.8},
      "encoding": {"x": {"field": "g", "type": "nominal"}, "y": {"field": "hi", "type": "quantitative"}}},
     {"data": {"name": "br"}, "transform": [{"filter": "datum.p == 2 && datum.k == 'top'"}], "mark": {"type": "rule", "color": "#222222", "strokeWidth": 1.3},
      "encoding": {"x": {"field": "a", "type": "nominal"}, "x2": {"field": "b"}, "y": {"field": "v", "type": "quantitative"}}},
     {"data": {"name": "br"}, "transform": [{"filter": "datum.p == 2 && datum.k == 'left'"}], "mark": {"type": "rule", "color": "#222222", "strokeWidth": 1.3, "x2Offset": -3},
      "encoding": {"x": {"field": "a", "type": "nominal"}, "x2": {"field": "b"}, "y": {"field": "v", "type": "quantitative"}}},
     {"data": {"name": "br"}, "transform": [{"filter": "datum.p == 2 && datum.k == 'right'"}], "mark": {"type": "rule", "color": "#222222", "strokeWidth": 1.3, "xOffset": 3},
      "encoding": {"x": {"field": "a", "type": "nominal"}, "x2": {"field": "b"}, "y": {"field": "v", "type": "quantitative"}}},
     {"data": {"name": "br"}, "transform": [{"filter": "datum.p == 2 && datum.k != 'top'"}], "mark": {"type": "text", "font": "DejaVu Sans", "fontWeight": "bold", "color": "black", "baseline": "alphabetic", "dx": 49.5, "dy": -4},
      "encoding": {"x": {"field": "a", "type": "nominal"}, "y": {"field": "v", "type": "quantitative"}, "text": {"field": "t"}, "size": {"condition": {"test": "datum.t == 'ns'", "value": 13}, "value": 21}}},
     {"data": {"name": "br"}, "transform": [{"filter": "datum.p == 2 && datum.k == 'top'"}], "mark": {"type": "text", "font": "DejaVu Sans", "fontWeight": "bold", "color": "black", "baseline": "alphabetic", "dx": 99, "dy": -4},
      "encoding": {"x": {"field": "a", "type": "nominal"}, "y": {"field": "v", "type": "quantitative"}, "text": {"field": "t"}, "size": {"condition": {"test": "datum.t == 'ns'", "value": 13}, "value": 21}}}
    ]}
   ]},
   {"width": 323, "height": 216, "layer": [
    {"data": {"name": "pts"}, "transform": [{"filter": "datum.p == 3"}], "mark": {"type": "point", "filled": true, "opacity": 1},
     "encoding": {
      "x": {"field": "g", "type": "nominal", "scale": {"type": "point", "domain": ["Control","Sepsis","Septic shock"], "padding": 0.656, "align": 0.507}, "axis": {"title": null}},
      "xOffset": {"field": "j", "type": "quantitative", "scale": {"domain": [-1,1], "range": [-97.5,97.5]}},
      "y": {"field": "v", "type": "quantitative", "scale": {"domain": [0,10], "nice": false, "range": [216, 25]}, "axis": {"title": "miR-210-3p expression", "values": [0,2,4,6,8,10]}},
      "color": {"field": "g", "type": "nominal", "scale": {"domain": ["Control","Sepsis","Septic shock"], "range": ["#a5c3e8","#a98bd8","#f87f80"]}, "legend": null},
      "shape": {"field": "g", "type": "nominal", "scale": {"domain": ["Control","Sepsis","Septic shock"], "range": ["circle","triangle-up","triangle-up"]}, "legend": null},
      "size": {"condition": {"test": "datum.g == 'Control'", "value": 70}, "value": 110}}},
    {"data": {"name": "stats"}, "transform": [{"filter": "datum.p == 3"}], "mark": {"type": "rule", "color": "black", "strokeWidth": 1.8},
     "encoding": {"x": {"field": "g", "type": "nominal"}, "y": {"field": "lo", "type": "quantitative"}, "y2": {"field": "hi"}}},
    {"data": {"name": "stats"}, "transform": [{"filter": "datum.p == 3"}], "mark": {"type": "tick", "orient": "horizontal", "color": "black", "size": 64, "thickness": 2.5},
     "encoding": {"x": {"field": "g", "type": "nominal"}, "y": {"field": "m", "type": "quantitative"}}},
    {"data": {"name": "stats"}, "transform": [{"filter": "datum.p == 3"}], "mark": {"type": "tick", "orient": "horizontal", "color": "black", "size": 30, "thickness": 1.8},
     "encoding": {"x": {"field": "g", "type": "nominal"}, "y": {"field": "lo", "type": "quantitative"}}},
    {"data": {"name": "stats"}, "transform": [{"filter": "datum.p == 3"}], "mark": {"type": "tick", "orient": "horizontal", "color": "black", "size": 30, "thickness": 1.8},
     "encoding": {"x": {"field": "g", "type": "nominal"}, "y": {"field": "hi", "type": "quantitative"}}},
    {"data": {"name": "br"}, "transform": [{"filter": "datum.p == 3 && datum.k == 'top'"}], "mark": {"type": "rule", "color": "#222222", "strokeWidth": 1.3},
     "encoding": {"x": {"field": "a", "type": "nominal"}, "x2": {"field": "b"}, "y": {"field": "v", "type": "quantitative"}}},
    {"data": {"name": "br"}, "transform": [{"filter": "datum.p == 3 && datum.k == 'left'"}], "mark": {"type": "rule", "color": "#222222", "strokeWidth": 1.3, "x2Offset": -3},
     "encoding": {"x": {"field": "a", "type": "nominal"}, "x2": {"field": "b"}, "y": {"field": "v", "type": "quantitative"}}},
    {"data": {"name": "br"}, "transform": [{"filter": "datum.p == 3 && datum.k == 'right'"}], "mark": {"type": "rule", "color": "#222222", "strokeWidth": 1.3, "xOffset": 3},
     "encoding": {"x": {"field": "a", "type": "nominal"}, "x2": {"field": "b"}, "y": {"field": "v", "type": "quantitative"}}},
    {"data": {"name": "br"}, "transform": [{"filter": "datum.p == 3 && datum.k != 'top'"}], "mark": {"type": "text", "font": "DejaVu Sans", "fontWeight": "bold", "color": "black", "baseline": "alphabetic", "dx": 48.75, "dy": -4},
     "encoding": {"x": {"field": "a", "type": "nominal"}, "y": {"field": "v", "type": "quantitative"}, "text": {"field": "t"}, "size": {"condition": {"test": "datum.t == 'ns'", "value": 13}, "value": 21}}},
    {"data": {"name": "br"}, "transform": [{"filter": "datum.p == 3 && datum.k == 'top'"}], "mark": {"type": "text", "font": "DejaVu Sans", "fontWeight": "bold", "color": "black", "baseline": "alphabetic", "dx": 97.5, "dy": -4},
     "encoding": {"x": {"field": "a", "type": "nominal"}, "y": {"field": "v", "type": "quantitative"}, "text": {"field": "t"}, "size": {"condition": {"test": "datum.t == 'ns'", "value": 13}, "value": 21}}}
   ]}
  ]},
  {"spacing": 66, "resolve": {"scale": {"xOffset": "independent"}}, "hconcat": [
   {"spacing": 81, "resolve": {"scale": {"xOffset": "independent"}}, "hconcat": [
    {"width": 327, "height": 215, "layer": [
     {"data": {"name": "pts"}, "transform": [{"filter": "datum.p == 4"}], "mark": {"type": "point", "filled": true, "opacity": 1},
      "encoding": {
       "x": {"field": "g", "type": "nominal", "scale": {"type": "point", "domain": ["Control","Sepsis","Septic shock"], "padding": 0.682, "align": 0.52}, "axis": {"title": null}},
       "xOffset": {"field": "j", "type": "quantitative", "scale": {"domain": [-1,1], "range": [-97.2,97.2]}},
       "y": {"field": "v", "type": "quantitative", "scale": {"domain": [0,15], "nice": false}, "axis": {"title": "miR-503-5p expression", "values": [0,5,10,15]}},
       "color": {"field": "g", "type": "nominal", "scale": {"domain": ["Control","Sepsis","Septic shock"], "range": ["#a5c3e8","#a98bd8","#f87f80"]}, "legend": null},
       "shape": {"field": "g", "type": "nominal", "scale": {"domain": ["Control","Sepsis","Septic shock"], "range": ["circle","triangle-up","triangle-up"]}, "legend": null},
       "size": {"condition": {"test": "datum.g == 'Control'", "value": 70}, "value": 110}}},
     {"data": {"name": "stats"}, "transform": [{"filter": "datum.p == 4"}], "mark": {"type": "rule", "color": "black", "strokeWidth": 1.8},
      "encoding": {"x": {"field": "g", "type": "nominal"}, "y": {"field": "lo", "type": "quantitative"}, "y2": {"field": "hi"}}},
     {"data": {"name": "stats"}, "transform": [{"filter": "datum.p == 4"}], "mark": {"type": "tick", "orient": "horizontal", "color": "black", "size": 64, "thickness": 2.5},
      "encoding": {"x": {"field": "g", "type": "nominal"}, "y": {"field": "m", "type": "quantitative"}}},
     {"data": {"name": "stats"}, "transform": [{"filter": "datum.p == 4"}], "mark": {"type": "tick", "orient": "horizontal", "color": "black", "size": 30, "thickness": 1.8},
      "encoding": {"x": {"field": "g", "type": "nominal"}, "y": {"field": "lo", "type": "quantitative"}}},
     {"data": {"name": "stats"}, "transform": [{"filter": "datum.p == 4"}], "mark": {"type": "tick", "orient": "horizontal", "color": "black", "size": 30, "thickness": 1.8},
      "encoding": {"x": {"field": "g", "type": "nominal"}, "y": {"field": "hi", "type": "quantitative"}}},
     {"data": {"name": "br"}, "transform": [{"filter": "datum.p == 4 && datum.k == 'top'"}], "mark": {"type": "rule", "color": "#222222", "strokeWidth": 1.3},
      "encoding": {"x": {"field": "a", "type": "nominal"}, "x2": {"field": "b"}, "y": {"field": "v", "type": "quantitative"}}},
     {"data": {"name": "br"}, "transform": [{"filter": "datum.p == 4 && datum.k == 'left'"}], "mark": {"type": "rule", "color": "#222222", "strokeWidth": 1.3, "x2Offset": -3},
      "encoding": {"x": {"field": "a", "type": "nominal"}, "x2": {"field": "b"}, "y": {"field": "v", "type": "quantitative"}}},
     {"data": {"name": "br"}, "transform": [{"filter": "datum.p == 4 && datum.k == 'right'"}], "mark": {"type": "rule", "color": "#222222", "strokeWidth": 1.3, "xOffset": 3},
      "encoding": {"x": {"field": "a", "type": "nominal"}, "x2": {"field": "b"}, "y": {"field": "v", "type": "quantitative"}}},
     {"data": {"name": "br"}, "transform": [{"filter": "datum.p == 4 && datum.k != 'top'"}], "mark": {"type": "text", "font": "DejaVu Sans", "fontWeight": "bold", "color": "black", "baseline": "alphabetic", "dx": 48.6, "dy": -4},
      "encoding": {"x": {"field": "a", "type": "nominal"}, "y": {"field": "v", "type": "quantitative"}, "text": {"field": "t"}, "size": {"condition": {"test": "datum.t == 'ns'", "value": 13}, "value": 21}}},
     {"data": {"name": "br"}, "transform": [{"filter": "datum.p == 4 && datum.k == 'top'"}], "mark": {"type": "text", "font": "DejaVu Sans", "fontWeight": "bold", "color": "black", "baseline": "alphabetic", "dx": 97.2, "dy": -4},
      "encoding": {"x": {"field": "a", "type": "nominal"}, "y": {"field": "v", "type": "quantitative"}, "text": {"field": "t"}, "size": {"condition": {"test": "datum.t == 'ns'", "value": 13}, "value": 21}}}
    ]},
    {"width": 325, "height": 217.7, "layer": [
     {"data": {"name": "pts"}, "transform": [{"filter": "datum.p == 5"}], "mark": {"type": "point", "filled": true, "opacity": 1},
      "encoding": {
       "x": {"field": "g", "type": "nominal", "scale": {"type": "point", "domain": ["Control","Sepsis","Septic shock"], "padding": 0.672, "align": 0.503}, "axis": {"title": null}},
       "xOffset": {"field": "j", "type": "quantitative", "scale": {"domain": [-1,1], "range": [-97.2,97.2]}},
       "y": {"field": "v", "type": "quantitative", "scale": {"domain": [0,10], "nice": false, "range": [217.7, 11.7]}, "axis": {"title": "miR-1262 expression", "values": [0,2,4,6,8,10]}},
       "color": {"field": "g", "type": "nominal", "scale": {"domain": ["Control","Sepsis","Septic shock"], "range": ["#a5c3e8","#a98bd8","#f87f80"]}, "legend": null},
       "shape": {"field": "g", "type": "nominal", "scale": {"domain": ["Control","Sepsis","Septic shock"], "range": ["circle","triangle-up","triangle-up"]}, "legend": null},
       "size": {"condition": {"test": "datum.g == 'Control'", "value": 70}, "value": 110}}},
     {"data": {"name": "stats"}, "transform": [{"filter": "datum.p == 5"}], "mark": {"type": "rule", "color": "black", "strokeWidth": 1.8},
      "encoding": {"x": {"field": "g", "type": "nominal"}, "y": {"field": "lo", "type": "quantitative"}, "y2": {"field": "hi"}}},
     {"data": {"name": "stats"}, "transform": [{"filter": "datum.p == 5"}], "mark": {"type": "tick", "orient": "horizontal", "color": "black", "size": 64, "thickness": 2.5},
      "encoding": {"x": {"field": "g", "type": "nominal"}, "y": {"field": "m", "type": "quantitative"}}},
     {"data": {"name": "stats"}, "transform": [{"filter": "datum.p == 5"}], "mark": {"type": "tick", "orient": "horizontal", "color": "black", "size": 30, "thickness": 1.8},
      "encoding": {"x": {"field": "g", "type": "nominal"}, "y": {"field": "lo", "type": "quantitative"}}},
     {"data": {"name": "stats"}, "transform": [{"filter": "datum.p == 5"}], "mark": {"type": "tick", "orient": "horizontal", "color": "black", "size": 30, "thickness": 1.8},
      "encoding": {"x": {"field": "g", "type": "nominal"}, "y": {"field": "hi", "type": "quantitative"}}},
     {"data": {"name": "br"}, "transform": [{"filter": "datum.p == 5 && datum.k == 'top'"}], "mark": {"type": "rule", "color": "#222222", "strokeWidth": 1.3},
      "encoding": {"x": {"field": "a", "type": "nominal"}, "x2": {"field": "b"}, "y": {"field": "v", "type": "quantitative"}}},
     {"data": {"name": "br"}, "transform": [{"filter": "datum.p == 5 && datum.k == 'left'"}], "mark": {"type": "rule", "color": "#222222", "strokeWidth": 1.3, "x2Offset": -3},
      "encoding": {"x": {"field": "a", "type": "nominal"}, "x2": {"field": "b"}, "y": {"field": "v", "type": "quantitative"}}},
     {"data": {"name": "br"}, "transform": [{"filter": "datum.p == 5 && datum.k == 'right'"}], "mark": {"type": "rule", "color": "#222222", "strokeWidth": 1.3, "xOffset": 3},
      "encoding": {"x": {"field": "a", "type": "nominal"}, "x2": {"field": "b"}, "y": {"field": "v", "type": "quantitative"}}},
     {"data": {"name": "br"}, "transform": [{"filter": "datum.p == 5 && datum.k != 'top'"}], "mark": {"type": "text", "font": "DejaVu Sans", "fontWeight": "bold", "color": "black", "baseline": "alphabetic", "dx": 48.6, "dy": -4},
      "encoding": {"x": {"field": "a", "type": "nominal"}, "y": {"field": "v", "type": "quantitative"}, "text": {"field": "t"}, "size": {"condition": {"test": "datum.t == 'ns'", "value": 13}, "value": 21}}},
     {"data": {"name": "br"}, "transform": [{"filter": "datum.p == 5 && datum.k == 'top'"}], "mark": {"type": "text", "font": "DejaVu Sans", "fontWeight": "bold", "color": "black", "baseline": "alphabetic", "dx": 97.2, "dy": -4},
      "encoding": {"x": {"field": "a", "type": "nominal"}, "y": {"field": "v", "type": "quantitative"}, "text": {"field": "t"}, "size": {"condition": {"test": "datum.t == 'ns'", "value": 13}, "value": 21}}}
    ]}
   ]},
   {"width": 323, "height": 217, "layer": [
    {"data": {"name": "pts"}, "transform": [{"filter": "datum.p == 6"}], "mark": {"type": "point", "filled": true, "opacity": 1},
     "encoding": {
      "x": {"field": "g", "type": "nominal", "scale": {"type": "point", "domain": ["Control","Sepsis","Septic shock"], "padding": 0.656, "align": 0.507}, "axis": {"title": null}},
      "xOffset": {"field": "j", "type": "quantitative", "scale": {"domain": [-1,1], "range": [-97.5,97.5]}},
      "y": {"field": "v", "type": "quantitative", "scale": {"domain": [0,10], "nice": false, "range": [217, 10]}, "axis": {"title": "miR-4772-3p expression", "values": [0,2,4,6,8,10]}},
      "color": {"field": "g", "type": "nominal", "scale": {"domain": ["Control","Sepsis","Septic shock"], "range": ["#a5c3e8","#a98bd8","#f87f80"]}, "legend": null},
      "shape": {"field": "g", "type": "nominal", "scale": {"domain": ["Control","Sepsis","Septic shock"], "range": ["circle","triangle-up","triangle-up"]}, "legend": null},
      "size": {"condition": {"test": "datum.g == 'Control'", "value": 70}, "value": 110}}},
    {"data": {"name": "stats"}, "transform": [{"filter": "datum.p == 6"}], "mark": {"type": "rule", "color": "black", "strokeWidth": 1.8},
     "encoding": {"x": {"field": "g", "type": "nominal"}, "y": {"field": "lo", "type": "quantitative"}, "y2": {"field": "hi"}}},
    {"data": {"name": "stats"}, "transform": [{"filter": "datum.p == 6"}], "mark": {"type": "tick", "orient": "horizontal", "color": "black", "size": 64, "thickness": 2.5},
     "encoding": {"x": {"field": "g", "type": "nominal"}, "y": {"field": "m", "type": "quantitative"}}},
    {"data": {"name": "stats"}, "transform": [{"filter": "datum.p == 6"}], "mark": {"type": "tick", "orient": "horizontal", "color": "black", "size": 30, "thickness": 1.8},
     "encoding": {"x": {"field": "g", "type": "nominal"}, "y": {"field": "lo", "type": "quantitative"}}},
    {"data": {"name": "stats"}, "transform": [{"filter": "datum.p == 6"}], "mark": {"type": "tick", "orient": "horizontal", "color": "black", "size": 30, "thickness": 1.8},
     "encoding": {"x": {"field": "g", "type": "nominal"}, "y": {"field": "hi", "type": "quantitative"}}},
    {"data": {"name": "br"}, "transform": [{"filter": "datum.p == 6 && datum.k == 'top'"}], "mark": {"type": "rule", "color": "#222222", "strokeWidth": 1.3},
     "encoding": {"x": {"field": "a", "type": "nominal"}, "x2": {"field": "b"}, "y": {"field": "v", "type": "quantitative"}}},
    {"data": {"name": "br"}, "transform": [{"filter": "datum.p == 6 && datum.k == 'left'"}], "mark": {"type": "rule", "color": "#222222", "strokeWidth": 1.3, "x2Offset": -3},
     "encoding": {"x": {"field": "a", "type": "nominal"}, "x2": {"field": "b"}, "y": {"field": "v", "type": "quantitative"}}},
    {"data": {"name": "br"}, "transform": [{"filter": "datum.p == 6 && datum.k == 'right'"}], "mark": {"type": "rule", "color": "#222222", "strokeWidth": 1.3, "xOffset": 3},
     "encoding": {"x": {"field": "a", "type": "nominal"}, "x2": {"field": "b"}, "y": {"field": "v", "type": "quantitative"}}},
    {"data": {"name": "br"}, "transform": [{"filter": "datum.p == 6 && datum.k != 'top'"}], "mark": {"type": "text", "font": "DejaVu Sans", "fontWeight": "bold", "color": "black", "baseline": "alphabetic", "dx": 48.75, "dy": -4},
     "encoding": {"x": {"field": "a", "type": "nominal"}, "y": {"field": "v", "type": "quantitative"}, "text": {"field": "t"}, "size": {"condition": {"test": "datum.t == 'ns'", "value": 13}, "value": 21}}},
    {"data": {"name": "br"}, "transform": [{"filter": "datum.p == 6 && datum.k == 'top'"}], "mark": {"type": "text", "font": "DejaVu Sans", "fontWeight": "bold", "color": "black", "baseline": "alphabetic", "dx": 97.5, "dy": -4},
     "encoding": {"x": {"field": "a", "type": "nominal"}, "y": {"field": "v", "type": "quantitative"}, "text": {"field": "t"}, "size": {"condition": {"test": "datum.t == 'ns'", "value": 13}, "value": 21}}}
   ]}
  ]}
 ]
}
